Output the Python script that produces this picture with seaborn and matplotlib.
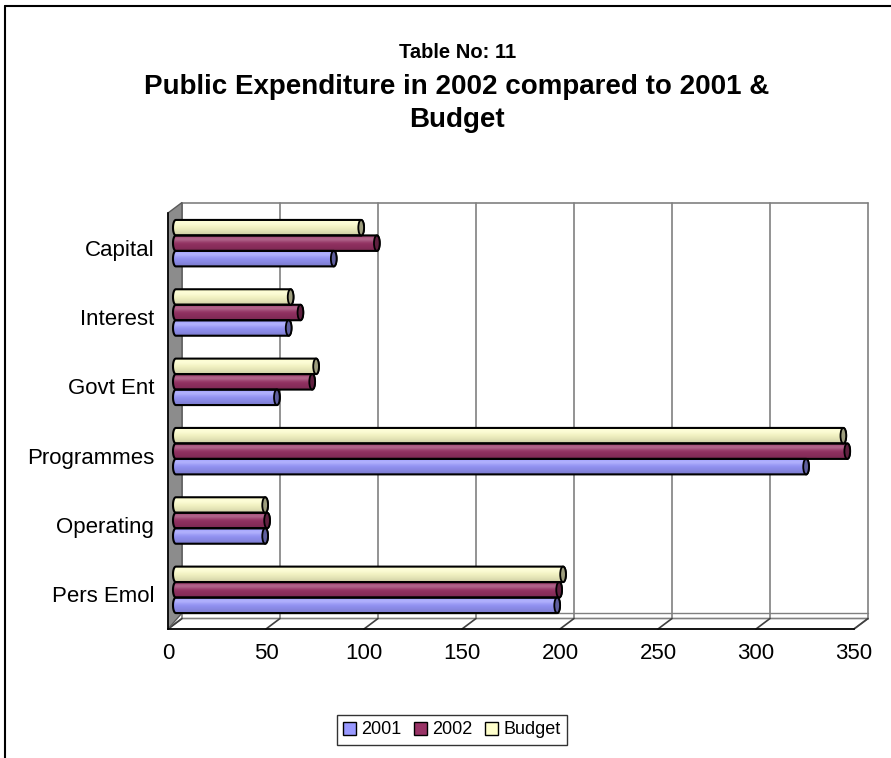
import numpy as np
import pandas as pd
import matplotlib
matplotlib.use("Agg")
import matplotlib.pyplot as plt
import seaborn as sns
from matplotlib.patches import Polygon, Ellipse, Patch, Rectangle
from matplotlib.lines import Line2D
from matplotlib.colors import to_rgb

# ---- data -------------------------------------------------------------
categories = ["Capital", "Interest", "Govt Ent", "Programmes", "Operating", "Pers Emol"]
series_names = ["2001", "2002", "Budget"]
exp_2001 = [82, 59, 53, 323, 47, 196]
exp_2002 = [104, 65, 71, 344, 48, 197]
exp_budget = [96, 60, 73, 342, 47, 199]
x_ticks = [0, 50, 100, 150, 200, 250, 300, 350]

df = pd.DataFrame({
    "category": categories * 3,
    "series": ["2001"] * 6 + ["2002"] * 6 + ["Budget"] * 6,
    "value": exp_2001 + exp_2002 + exp_budget,
})
palette = {"2001": "#9999FF", "2002": "#993366", "Budget": "#FFFFCC"}

# ---- figure -----------------------------------------------------------
sns.set_style("white")
plt.rcParams["font.family"] = ["Liberation Sans", "DejaVu Sans"]
plt.rcParams["text.color"] = "black"
plt.rcParams["xtick.color"] = "black"
plt.rcParams["ytick.color"] = "black"
plt.rcParams["axes.labelcolor"] = "black"

W, H = 891, 758
fig = plt.figure(figsize=(W / 100, H / 100), dpi=100)


def fx(px):
    return px / W


def fy(py):
    return 1 - py / H


# front plane of the 3-D box
left_px, right_px, top_px, bot_px = 168, 854, 213, 629
ax = fig.add_axes([fx(left_px), fy(bot_px), (right_px - left_px) / W, (bot_px - top_px) / H])
ax.set_facecolor("none")

sns.barplot(data=df, x="value", y="category", hue="series", order=categories,
            hue_order=["Budget", "2002", "2001"], palette=palette, orient="h",
            width=0.67, saturation=1, errorbar=None, legend=False, ax=ax)
bars = [p for p in ax.patches if isinstance(p, Rectangle) and p.get_width() > 0]

xmax = 350
ax.set_xlim(0, xmax)
ax.set_ylim(len(categories) - 0.5, -0.5)
ymin, ymax = -0.5, len(categories) - 0.5

# pixel -> data conversion for depth offsets
px_x = xmax / (right_px - left_px)
px_y = len(categories) / (bot_px - top_px)
ddx, ddy = 14 * px_x, 10.5 * px_y      # back wall depth
mdx, mdy = 5 * px_x, 4.5 * px_y        # bar depth

grid_c = "#808080"

# back wall gridlines and outline
for v in x_ticks:
    ax.plot([v + ddx, v + ddx], [ymin - ddy, ymax - ddy], color=grid_c, lw=1.2,
            clip_on=False, zorder=0.5)
ax.plot([ddx, xmax + ddx], [ymin - ddy, ymin - ddy], color=grid_c, lw=1.2,
        clip_on=False, zorder=0.5)
ax.plot([ddx, xmax + ddx], [ymax - 16 * px_y, ymax - 16 * px_y], color=grid_c,
        lw=1.0, clip_on=False, zorder=0.5)

# floor
ax.add_patch(Polygon([(0, ymax), (xmax, ymax), (xmax + ddx, ymax - ddy), (ddx, ymax - ddy)],
                     closed=True, facecolor="white", edgecolor=grid_c, lw=1.2,
                     clip_on=False, zorder=0.6))
for v in x_ticks:
    ax.plot([v, v + ddx], [ymax, ymax - ddy], color="#404040", lw=1.2,
            clip_on=False, zorder=0.7)

# side wall
ax.add_patch(Polygon([(0, ymax), (0, ymin), (ddx, ymin - ddy), (ddx, ymax - 16 * px_y)],
                     closed=True, facecolor="#8c8c8c", edgecolor="#5a5a5a", lw=1.0,
                     clip_on=False, zorder=0.8))


# ---- cylinders --------------------------------------------------------
def shade_column(base, n=64):
    base = np.array(to_rgb(base))
    t = np.linspace(0, 1, n)[:, None]
    hi = 0.25 * np.exp(-((t - 0.25) / 0.18) ** 2)
    c = base + (1 - base) * hi
    c = c * (1 - 0.2 * t ** 2)
    return np.clip(c, 0, 1)[:, None, :]


rx = 1.45  # half-width of the end ellipse, data units
for p in bars:
    x0 = p.get_x() + mdx
    yc = p.get_y() + p.get_height() / 2 - mdy
    w = p.get_width()
    ry = p.get_height() / 2
    col = p.get_facecolor()
    p.set_visible(False)

    tl = np.linspace(np.pi / 2, 3 * np.pi / 2, 24)
    left = np.column_stack([x0 + rx + rx * np.cos(tl), yc + ry * np.sin(tl)])
    tr = np.linspace(-np.pi / 2, np.pi / 2, 24)
    right = np.column_stack([x0 + w + rx * np.cos(tr), yc + ry * np.sin(tr)])
    outline = np.vstack([left, right])

    body = Polygon(outline, closed=True, facecolor="none", edgecolor="black",
                   lw=1.5, clip_on=False, zorder=3.2)
    ax.add_patch(body)
    im = ax.imshow(shade_column(col), extent=(x0, x0 + w + rx, yc + ry, yc - ry),
                   aspect="auto", interpolation="bilinear", zorder=3.0, origin="upper")
    im.set_clip_path(body)

    cap_col = np.array(to_rgb(col)) * 0.62
    ax.add_patch(Ellipse((x0 + w, yc), 2 * rx, 2 * ry, facecolor=cap_col,
                         edgecolor="black", lw=1.3, clip_on=False, zorder=3.3))

ax.set_xlim(0, xmax)
ax.set_ylim(ymax, ymin)

# ---- axes decoration ---------------------------------------------------
for s in ["top", "right"]:
    ax.spines[s].set_visible(False)
for s in ["left", "bottom"]:
    ax.spines[s].set_color("black")
    ax.spines[s].set_linewidth(1.2)
    ax.spines[s].set_zorder(4)

ax.set_xticks(x_ticks)
ax.set_xticklabels([str(v) for v in x_ticks])
ax.tick_params(axis="x", direction="out", length=4, width=1.2, color="black",
               labelsize=16, pad=6, labelcolor="black")
ax.set_yticks(range(len(categories)))
ax.set_yticklabels(categories)
ax.tick_params(axis="y", which="major", length=0, labelsize=16, pad=10, labelcolor="black")
ax.set_yticks(np.arange(len(categories) + 1) - 0.5, minor=True)
ax.tick_params(axis="y", which="minor", direction="out", length=5, width=1.2, color="black")
ax.set_xlabel("")
ax.set_ylabel("")
ax.grid(False)

# ---- titles -----------------------------------------------------------
fig.text(fx(458), fy(53), "Table No: 11", ha="center", va="center",
         fontsize=14.5, fontweight="bold", color="black")
fig.text(fx(457), fy(87), "Public Expenditure in 2002 compared to 2001 &", ha="center",
         va="center", fontsize=20, fontweight="bold", color="black")
fig.text(fx(457), fy(120), "Budget", ha="center", va="center", fontsize=20,
         fontweight="bold", color="black")

# ---- legend -----------------------------------------------------------
handles = [Patch(facecolor=palette[s], edgecolor="black", lw=1, label=s) for s in series_names]
leg = fig.legend(handles=handles, loc="center", bbox_to_anchor=(fx(452), fy(730)),
                 ncol=3, frameon=True, fancybox=False, edgecolor="black", fontsize=13,
                 handlelength=0.7, handleheight=0.7, handletextpad=0.3,
                 columnspacing=0.7, borderpad=0.35, labelcolor="black")
leg.get_frame().set_linewidth(1.0)

# ---- outer frame (left and top edges) ----------------------------------
fig.add_artist(Line2D([fx(5), fx(5)], [0, fy(6)], color="black", lw=1.5,
                      transform=fig.transFigure))
fig.add_artist(Line2D([fx(5), 1], [fy(6), fy(6)], color="black", lw=1.5,
                      transform=fig.transFigure))

fig.savefig("out.png", dpi=100)
